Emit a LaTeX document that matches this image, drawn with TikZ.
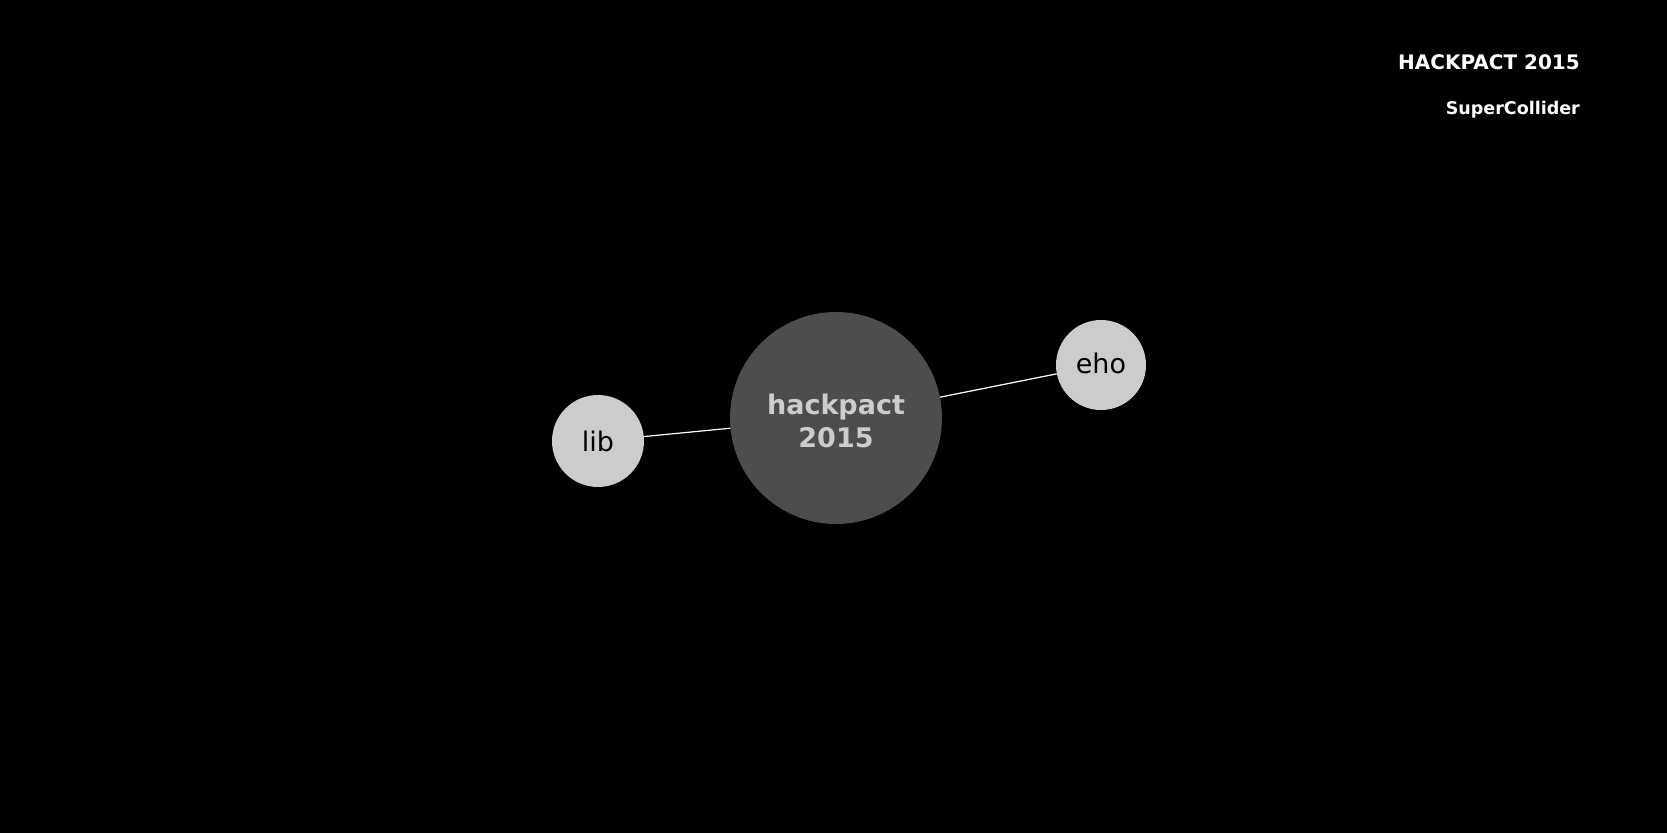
\documentclass[tikz,border=0pt]{standalone}
\usepackage{fontspec}
\setmainfont{DejaVu Sans}
\definecolor{bigfill}{HTML}{4D4D4D}
\definecolor{smallfill}{HTML}{CCCCCC}
\tikzset{
  hub/.style={circle, fill=bigfill, inner sep=0pt, minimum size=212pt},
  hubtext/.style={align=center, inner sep=0pt, text=smallfill,
    font=\fontsize{27}{33}\selectfont\bfseries},
  leaf/.style={circle, fill=smallfill, inner sep=0pt, text=black,
    font=\fontsize{27}{33}\selectfont},
  link/.style={draw=white, line width=1.2pt},
  titletext/.style={text=white, anchor=base east, inner sep=0pt, font=\bfseries}
}
\begin{document}
\begin{tikzpicture}[x=1pt,y=-1pt]
\fill[black] (0,0) rectangle (1667,833);
\useasboundingbox (0,0) rectangle (1667,833);
\node[hub, label={[hubtext, name=hublabel, yshift=-3pt]center:hackpact\\2015}] (hub) at (836,418) {};
\node[leaf, minimum size=92pt] (lib) at (598,441) {lib};
\node[leaf, minimum size=90pt, label={[text=black, font=\fontsize{27}{33}\selectfont, inner sep=0pt, name=eholabel, yshift=2pt]center:eho}] (eho) at (1101,365) {};
\draw[link] (lib) -- (hub);
\draw[link] (hub) -- (eho);
\node[titletext, font=\fontsize{20}{24}\selectfont\bfseries] (title) at (1580,69) {HACKPACT 2015};
\node[titletext, font=\fontsize{17.5}{21}\selectfont\bfseries] (sub) at (1580,114) {SuperCollider};
\end{tikzpicture}
\end{document}
